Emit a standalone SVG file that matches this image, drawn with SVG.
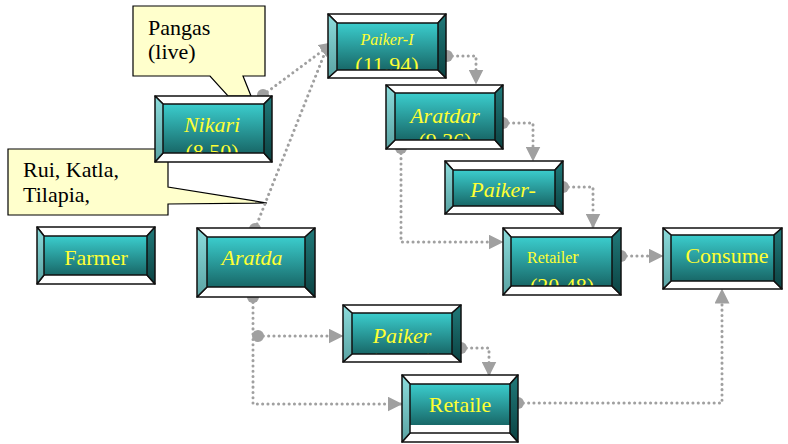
<svg xmlns="http://www.w3.org/2000/svg" width="788" height="444" viewBox="0 0 788 444">
<style>
.bg{fill:#ffffff}
.face{fill:url(#faceG)}
.tb{fill:#ffffff;stroke:#111;stroke-width:1.5;stroke-linejoin:round}
.lf{fill:url(#leftG);stroke:#111;stroke-width:1.5;stroke-linejoin:round}
.rt{fill:url(#rightG);stroke:#111;stroke-width:1.5;stroke-linejoin:round}
.lbl{font-family:'Liberation Serif','Times New Roman',serif;font-size:22px;fill:#ffff33;text-anchor:middle}
.it{font-style:italic}
.call{fill:#ffffcc;stroke:#000;stroke-width:1.2;stroke-linejoin:miter}
.ct{font-family:'Liberation Serif','Times New Roman',serif;font-size:22px;fill:#000}
.cn{fill:none;stroke:#a0a0a0;stroke-width:3;stroke-linecap:round;stroke-dasharray:0.1 5.2}
</style>
<defs>
<linearGradient id="faceG" x1="0" y1="0" x2="0" y2="1">
<stop offset="0" stop-color="#3bcdcd"/>
<stop offset="1" stop-color="#186868"/>
</linearGradient>
<linearGradient id="leftG" x1="0" y1="0" x2="0" y2="1">
<stop offset="0" stop-color="#8cdcdc"/>
<stop offset="1" stop-color="#5aa3a3"/>
</linearGradient>
<linearGradient id="rightG" x1="0" y1="0" x2="0" y2="1">
<stop offset="0" stop-color="#207a7a"/>
<stop offset="1" stop-color="#0c4343"/>
</linearGradient>
<marker id="arr" viewBox="0 0 10 10" refX="9" refY="5" markerWidth="15" markerHeight="15" markerUnits="userSpaceOnUse" orient="auto">
<path d="M0,0 L10,5 L0,10 z" fill="#a0a0a0"/>
</marker>
<marker id="st" viewBox="0 0 10 10" refX="5" refY="5" markerWidth="12" markerHeight="12" markerUnits="userSpaceOnUse">
<circle cx="5" cy="5" r="5" fill="#a0a0a0"/>
</marker>
<clipPath id="cNik"><rect x="163" y="104" width="101" height="49"/></clipPath>
<clipPath id="cPI"><rect x="337" y="23" width="101" height="47"/></clipPath>
<clipPath id="cAr"><rect x="395" y="93" width="100" height="47"/></clipPath>
<clipPath id="cRt"><rect x="511" y="237" width="101" height="49"/></clipPath>
<clipPath id="cPk"><rect x="352" y="313" width="100" height="41"/></clipPath>
</defs>
<rect class="bg" x="0" y="0" width="788" height="444"/>

<g id="callout-pangas">
<polygon class="call" points="133,6 265,6 265,76 243,76 251,96 228,96 210,76 133,76"/>
<text class="ct" x="148" y="35" font-family="'Liberation Serif', serif">Pangas</text>
<text class="ct" x="148" y="59" font-family="'Liberation Serif', serif">(live)</text>
</g>

<g id="callout-rui">
<polygon class="call" points="8,149 168,149 168,187 267,203 168,204 168,215 8,215"/>
<text class="ct" x="23" y="177" font-family="'Liberation Serif', serif">Rui, Katla,</text>
<text class="ct" x="23" y="202" font-family="'Liberation Serif', serif">Tilapia,</text>
</g>

<g id="connectors">
<path class="cn" d="M263,95 L333,43" marker-start="url(#st)" marker-end="url(#arr)"/>
<path class="cn" d="M255,229 L326,50" marker-start="url(#st)"/>
<path class="cn" d="M447,56 L476,56 L476,83" marker-start="url(#st)" marker-end="url(#arr)"/>
<path class="cn" d="M503,123 L533,123 L533,160" marker-start="url(#st)" marker-end="url(#arr)"/>
<path class="cn" d="M563,187 L593,187 L593,227" marker-start="url(#st)" marker-end="url(#arr)"/>
<path class="cn" d="M401,148 L401,242 L502,242" marker-start="url(#st)" marker-end="url(#arr)"/>
<path class="cn" d="M621,256 L662,256" marker-start="url(#st)" marker-end="url(#arr)"/>
<path class="cn" d="M253,297 L253,404 L401,404" marker-start="url(#st)" marker-end="url(#arr)"/>
<path class="cn" d="M258,336 L342,336" marker-start="url(#st)" marker-end="url(#arr)"/>
<path class="cn" d="M461,348 L489,348 L489,375" marker-start="url(#st)" marker-end="url(#arr)"/>
<path class="cn" d="M518,403 L722,403 L722,290" marker-start="url(#st)" marker-end="url(#arr)"/>
</g>

<g id="node-farmer">
<rect class="face" x="44" y="236" width="103" height="39"/>
<text class="lbl" x="96" y="265" font-family="'Liberation Serif', serif">Farmer</text>
<polygon class="tb" points="37,227 155,227 147,236 44,236"/>
<polygon class="tb" points="37,284 155,284 147,275 44,275"/>
<polygon class="lf" points="37,227 44,236 44,275 37,284"/>
<polygon class="rt" points="155,227 147,236 147,275 155,284"/>
</g>

<g id="node-aratda">
<rect class="face" x="207" y="237" width="98" height="50"/>
<text class="lbl it" x="252" y="265" font-family="'Liberation Serif', serif">Aratda</text>
<polygon class="tb" points="197,228 315,228 305,237 207,237"/>
<polygon class="tb" points="197,297 315,297 305,287 207,287"/>
<polygon class="lf" points="197,228 207,237 207,287 197,297"/>
<polygon class="rt" points="315,228 305,237 305,287 315,297"/>
</g>

<g id="node-nikari">
<rect class="face" x="163" y="104" width="101" height="49"/>
<text class="lbl it" x="212" y="132" font-family="'Liberation Serif', serif">Nikari</text>
<text class="lbl" x="212" y="159" clip-path="url(#cNik)" font-family="'Liberation Serif', serif">(8.50)</text>
<polygon class="tb" points="155,96 272,96 264,104 163,104"/>
<polygon class="tb" points="155,162 272,162 264,153 163,153"/>
<polygon class="lf" points="155,96 163,104 163,153 155,162"/>
<polygon class="rt" points="272,96 264,104 264,153 272,162"/>
</g>

<g id="node-paiker-i">
<rect class="face" x="337" y="23" width="101" height="47"/>
<text class="lbl it" x="387" y="45" style="font-size:16px" font-family="'Liberation Serif', serif">Paiker-I</text>
<text class="lbl" x="387" y="72" clip-path="url(#cPI)" font-family="'Liberation Serif', serif">(11.94)</text>
<polygon class="tb" points="328,14 446,14 438,23 337,23"/>
<polygon class="tb" points="328,78 446,78 438,70 337,70"/>
<polygon class="lf" points="328,14 337,23 337,70 328,78"/>
<polygon class="rt" points="446,14 438,23 438,70 446,78"/>
</g>

<g id="node-aratdar">
<rect class="face" x="395" y="93" width="100" height="47"/>
<text class="lbl it" x="445" y="123" font-family="'Liberation Serif', serif">Aratdar</text>
<text class="lbl" x="445" y="148" clip-path="url(#cAr)" font-family="'Liberation Serif', serif">(9.36)</text>
<polygon class="tb" points="386,85 503,85 495,93 395,93"/>
<polygon class="tb" points="386,149 503,149 495,140 395,140"/>
<polygon class="lf" points="386,85 395,93 395,140 386,149"/>
<polygon class="rt" points="503,85 495,93 495,140 503,149"/>
</g>

<g id="node-paiker-ii">
<rect class="face" x="453" y="170" width="102" height="36"/>
<text class="lbl it" x="503" y="197" font-family="'Liberation Serif', serif">Paiker-</text>
<polygon class="tb" points="445,161 563,161 555,170 453,170"/>
<polygon class="tb" points="445,214 563,214 555,206 453,206"/>
<polygon class="lf" points="445,161 453,170 453,206 445,214"/>
<polygon class="rt" points="563,161 555,170 555,206 563,214"/>
</g>

<g id="node-retailer">
<rect class="face" x="511" y="237" width="101" height="49"/>
<text class="lbl" x="527" y="263" style="font-size:16px;text-anchor:start" font-family="'Liberation Serif', serif">Retaile<tspan style="font-size:19px">r</tspan></text>
<text class="lbl" x="562" y="293" clip-path="url(#cRt)" font-family="'Liberation Serif', serif">(20.48)</text>
<polygon class="tb" points="503,228 621,228 612,237 511,237"/>
<polygon class="tb" points="503,295 621,295 612,286 511,286"/>
<polygon class="lf" points="503,228 511,237 511,286 503,295"/>
<polygon class="rt" points="621,228 612,237 612,286 621,295"/>
</g>

<g id="node-consumer">
<rect class="face" x="671" y="235" width="103" height="46"/>
<text class="lbl" x="727" y="263" font-family="'Liberation Serif', serif">Consume</text>
<polygon class="tb" points="663,228 782,228 774,235 671,235"/>
<polygon class="tb" points="663,289 782,289 774,281 671,281"/>
<polygon class="lf" points="663,228 671,235 671,281 663,289"/>
<polygon class="rt" points="782,228 774,235 774,281 782,289"/>
</g>

<g id="node-paiker">
<rect class="face" x="352" y="313" width="100" height="41"/>
<text class="lbl it" x="402" y="343" font-family="'Liberation Serif', serif">Paiker</text>
<text class="lbl" x="402" y="368" clip-path="url(#cPk)" font-family="'Liberation Serif', serif">(16.07)</text>
<polygon class="tb" points="343,305 461,305 452,313 352,313"/>
<polygon class="tb" points="343,362 461,362 452,354 352,354"/>
<polygon class="lf" points="343,305 352,313 352,354 343,362"/>
<polygon class="rt" points="461,305 452,313 452,354 461,362"/>
</g>

<g id="node-retaile">
<rect class="face" x="410" y="384" width="100" height="41"/>
<rect x="410" y="425" width="100" height="8" fill="#ffffff"/>
<text class="lbl" x="460" y="412" font-family="'Liberation Serif', serif">Retaile</text>
<polygon class="tb" points="402,375 518,375 510,384 410,384"/>
<polygon class="tb" points="402,442 518,442 510,433 410,433"/>
<polygon class="lf" points="402,375 410,384 410,433 402,442"/>
<polygon class="rt" points="518,375 510,384 510,433 518,442"/>
</g>
</svg>
